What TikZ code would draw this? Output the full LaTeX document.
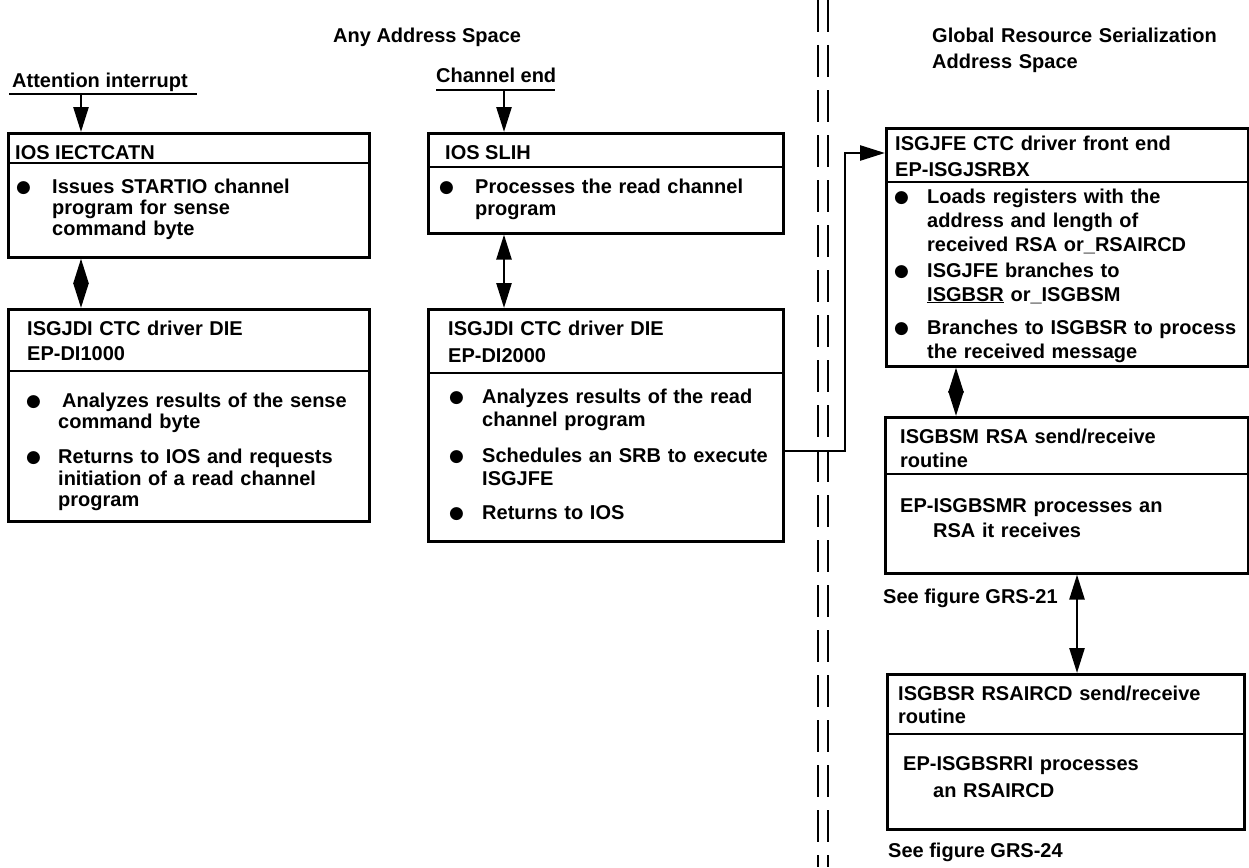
\documentclass[tikz,border=0pt]{standalone}
\usepackage{fontspec}
\setmainfont{Liberation Sans}
\newfontfamily\symfont{DejaVu Sans}
\usetikzlibrary{arrows.meta}
% bullet glyph and a hanging bullet box of a given width
\newcommand\bul{\raisebox{0.8pt}{\symfont\fontsize{17}{17}\selectfont ●}}
\newcommand\hangbul[1]{\makebox[#1][l]{\bul}}
\tikzset{
  ibm/.tip={Triangle[length=25pt,width=15pt]},
  box/.style={draw, line width=2.6pt, rectangle, inner sep=0pt, anchor=north west},
  divider/.style={line width=2.2pt},
  conn/.style={line width=2.6pt},
  sep/.style={line width=2.8pt, dash pattern=on 32pt off 13pt},
  lbl/.style={anchor=base west, inner sep=0pt, align=left, font=\bfseries\fontsize{20}{24}\selectfont},
  body/.style={anchor=base west, inner sep=0pt, align=left, text width=420pt,
    font=\bfseries\fontsize{20}{#1}\selectfont},
}
\begin{document}
\begin{tikzpicture}[x=1pt,y=-1pt]
\useasboundingbox (0,0) rectangle (1249,867);

% ---- column titles
\node[lbl] (tany) at (333,42) {Any Address Space};
\node[body=26] (tgrs) at (932,42) {Global Resource Serialization\\Address Space};

% ---- address space separator (double dashed rule)
\coordinate (s1t) at (818,0);  \coordinate (s1b) at (818,867);
\coordinate (s2t) at (828,0);  \coordinate (s2b) at (828,867);
\draw[sep] (s1t) -- (s1b);
\draw[sep] (s2t) -- (s2b);

% ---- external events
\node[lbl] (lat) at (12,87) {Attention interrupt};
\coordinate (u1a) at (9,94);   \coordinate (u1b) at (197,94);
\draw[conn] (u1a) -- (u1b);
\coordinate (a1) at (81,94);

\node[lbl] (lce) at (436,82) {Channel end};
\coordinate (u2a) at (436,90); \coordinate (u2b) at (555,90);
\draw[conn] (u2a) -- (u2b);
\coordinate (a3) at (504,90);

% ---- IOS IECTCATN
\node[box, minimum width=361pt, minimum height=124pt] (b1) at (7,132) {};
\draw[divider] ([yshift=-31pt]b1.north west) -- ([yshift=-31pt]b1.north east);
\node[lbl] (b1h) at (15,159) {IOS IECTCATN};
\node[body=21] (b1t) at (16,193) {\hangbul{36pt}Issues STARTIO channel\\
  \hspace*{36pt}program for sense\\
  \hspace*{36pt}command byte};

% ---- ISGJDI EP-DI1000
\node[box, minimum width=361pt, minimum height=212pt] (b2) at (7,308) {};
\draw[divider] ([yshift=-63pt]b2.north west) -- ([yshift=-63pt]b2.north east);
\node[body=25] (b2h) at (27,335) {ISGJDI CTC driver DIE\\EP-DI1000};
\node[body=21.5] (b2t) at (26,407) {\hangbul{36pt}Analyzes results of the sense\\
  \hspace*{32pt}command byte\\[13.5pt]
  \hangbul{32pt}Returns to IOS and requests\\
  \hspace*{32pt}initiation of a read channel\\
  \hspace*{32pt}program};

% ---- IOS SLIH
\node[box, minimum width=355pt, minimum height=100pt] (b3) at (427,132) {};
\draw[divider] ([yshift=-35pt]b3.north west) -- ([yshift=-35pt]b3.north east);
\node[lbl] (b3h) at (445,159) {IOS SLIH};
\node[body=22] (b3t) at (439,193) {\hangbul{36pt}Processes the read channel\\
  \hspace*{36pt}program};

% ---- ISGJDI EP-DI2000
\node[box, minimum width=355pt, minimum height=232pt] (b4) at (427,308) {};
\draw[divider] ([yshift=-65pt]b4.north west) -- ([yshift=-65pt]b4.north east);
\node[body=27] (b4h) at (448,335) {ISGJDI CTC driver DIE\\EP-DI2000};
\node[body=23] (b4t) at (449,403) {\hangbul{33pt}Analyzes results of the read\\
  \hspace*{33pt}channel program\\[13pt]
  \hangbul{33pt}Schedules an SRB to execute\\
  \hspace*{33pt}ISGJFE\\[11pt]
  \hangbul{33pt}Returns to IOS};

% ---- ISGJFE front end
\node[box, minimum width=362pt, minimum height=238pt] (b5) at (885,127) {};
\draw[divider] ([yshift=-55pt]b5.north west) -- ([yshift=-55pt]b5.north east);
\node[body=26] (b5h) at (895,150) {ISGJFE CTC driver front end\\EP-ISGJSRBX};
\node[body=24] (b5t) at (894,203) {\hangbul{33pt}Loads registers with the\\
  \hspace*{33pt}address and length of\\
  \hspace*{33pt}received RSA or\_RSAIRCD\\[2pt]
  \hangbul{33pt}ISGJFE branches to\\
  \hspace*{33pt}\underline{ISGBSR} or\_ISGBSM\\[9pt]
  \hangbul{33pt}Branches to ISGBSR to process\\
  \hspace*{33pt}the received message};

% ---- ISGBSM
\node[box, minimum width=363pt, minimum height=156pt] (b6) at (884,416) {};
\draw[divider] ([yshift=-58pt]b6.north west) -- ([yshift=-58pt]b6.north east);
\node[body=24] (b6h) at (900,443) {ISGBSM RSA send/receive\\routine};
\node[body=25] (b6t) at (900,512) {EP-ISGBSMR processes an\\
  \hspace*{33pt}RSA it receives};
\node[lbl] (r21) at (883,603) {See figure GRS-21};

% ---- ISGBSR
\node[box, minimum width=357pt, minimum height=155pt] (b7) at (886,673) {};
\draw[divider] ([yshift=-61pt]b7.north west) -- ([yshift=-61pt]b7.north east);
\node[body=23] (b7h) at (898,700) {ISGBSR RSAIRCD send/receive\\routine};
\node[body=27] (b7t) at (903,770) {EP-ISGBSRRI processes\\
  \hspace*{30pt}an RSAIRCD};
\node[lbl] (r24) at (888,857) {See figure GRS-24};

% ---- connectors
\coordinate (x1) at (81,0);
\coordinate (x3) at (504,0);
\coordinate (x5) at (956,0);
\coordinate (x6) at (1077,0);
\coordinate (k1) at (845,451);
\coordinate (k2) at (845,153);

\draw[conn,-ibm] (a1) -- (b1.north west -| a1);
\draw[conn,ibm-ibm] (b1.south west -| x1) -- (b2.north west -| x1);
\draw[conn,-ibm] (a3) -- (b3.north west -| a3);
\draw[conn,ibm-ibm] (b3.south west -| x3) -- (b4.north west -| x3);
\draw[conn,-ibm] (b4.east |- k1) -- (k1) -- (k2) -- (b5.west |- k2);
\draw[conn,ibm-ibm] (b5.south west -| x5) -- (b6.north west -| x5);
\draw[conn,ibm-ibm] (b6.south west -| x6) -- (b7.north west -| x6);
\end{tikzpicture}
\end{document}
